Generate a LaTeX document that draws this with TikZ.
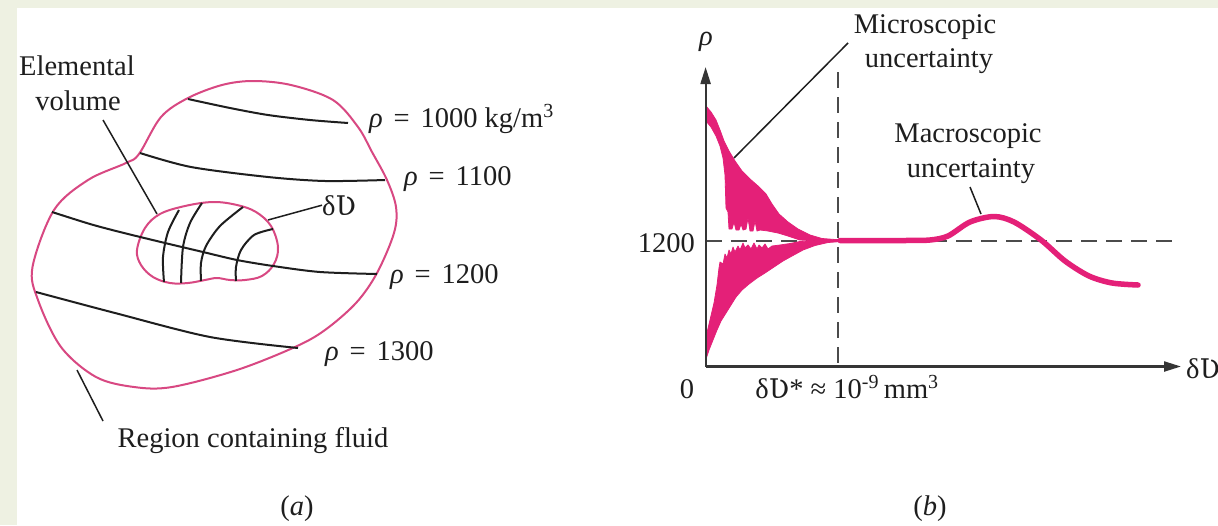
\documentclass[tikz,border=0pt]{standalone}
\usepackage{fontspec}
\setmainfont{Liberation Serif}
\newfontfamily\dvs[Scale=0.95]{DejaVu Serif}
\usetikzlibrary{arrows.meta}
\definecolor{bggreen}{RGB}{238,241,226}
\definecolor{regionpink}{RGB}{216,72,130}
\definecolor{fanpink}{RGB}{228,32,120}
\definecolor{inkdark}{RGB}{30,30,30}
\newcommand\fsz{\fontsize{28.5pt}{34pt}\selectfont}
\newcommand\VV{{\dvs Ʋ}}
\newcommand\rh{\textit{ρ}}
\newcommand\eqs{\hspace{0.38em}=\hspace{0.38em}}
\begin{document}
\begin{tikzpicture}[x=1pt,y=-1pt,
  lbl/.style={font=\fsz, inner sep=0pt, text=inkdark},
  iso/.style={draw=inkdark, line width=2pt},
  leader/.style={draw=inkdark, line width=1.5pt},
  regionline/.style={draw=regionpink, line width=2pt},
  axisline/.style={draw=inkdark!90, line width=2.2pt, -{Triangle[length=17pt,width=10pt]}},
  guide/.style={draw=inkdark!80, line width=2pt, dash pattern=on 16pt off 9pt},
  fan/.style={fill=fanpink, draw=fanpink, line width=0.8pt, line join=round},
  curve/.style={draw=fanpink, line width=5.5pt, line cap=round, line join=round},
]
\useasboundingbox (0,0) rectangle (1218,525);
\clip (0,0) rectangle (1218,525);
\fill[bggreen] (0,0) rectangle (1218,525);
\fill[white] (17,7.5) rectangle (1218,525);

% ---------------- (a) ----------------
\draw[regionline] plot[smooth cycle, tension=0.55] coordinates {
 (32.5,267) (38,300) (61,347) (96,377) (134,387) (172,387) (237,370)
 (295,347) (325,330) (356,303) (377,273) (394,233) (396,207) (387,180)
 (372,152) (358,127) (333,100) (291,85) (253,81) (222,85) (188,98)
 (161,117) (139,154) (126,163) (88,180) (54,210)};

\draw[iso] plot[smooth] coordinates {(188,99) (230,108) (268,115) (310,120) (348,123)};
\draw[iso] plot[smooth] coordinates {(140,153) (191,167) (268,177) (325,181) (385,180)};
\draw[iso] plot[smooth] coordinates {(36,292) (115,313) (210,337) (298,348)};

% elemental volume
\draw[regionline, fill=white] plot[smooth cycle, tension=0.6] coordinates {
 (137,250) (141,265) (153,277) (170,283) (188,283) (205,280) (217,278)
 (230,280) (245,280) (262,276) (274,264) (278,247) (271,226) (256,212)
 (237,205) (213,202) (185,206) (160,214) (145,228)};
\draw[iso] plot[smooth] coordinates {(52,212) (90,224) (120,232) (165,243) (203,252) (237,260) (273,266) (320,272) (377,274)};
\draw[iso] plot[smooth] coordinates {(179,210) (168,232) (163,257) (164,282)};
\draw[iso] plot[smooth] coordinates {(202,203) (190,223) (183,247) (181,283)};
\draw[iso] plot[smooth] coordinates {(243,207) (220,226) (206,246) (201,263) (201,281)};
\draw[iso] plot[smooth] coordinates {(273,229) (254,235) (241,250) (236,267) (236,281)};

\node[lbl, anchor=base] (elem1) at (77,75) {Elemental};
\node[lbl, anchor=base] (elem2) at (78,110) {volume};
\coordinate (elemtop) at (103,120);
\coordinate (elembot) at (157,214);
\draw[leader] (elemtop) -- (elembot);

\node[lbl, anchor=base west] (dv) at (322,215) {δ\VV};
\coordinate (dvend) at (268,220);
\draw[leader] (dvend) -- (dv.west);

\node[lbl, anchor=base west] (r1000) at (369,127) {\rh\eqs1000 kg/m\textsuperscript{3}};
\node[lbl, anchor=base west] (r1100) at (404,185) {\rh\eqs1100};
\node[lbl, anchor=base west] (r1200) at (390,283) {\rh\eqs1200};
\node[lbl, anchor=base west] (r1300) at (325,360) {\rh\eqs1300};

\node[lbl, anchor=base] (region) at (253,447) {Region containing fluid};
\coordinate (regtop) at (77,370);
\coordinate (regbot) at (103,421);
\draw[leader] (regtop) -- (regbot);

\node[lbl, anchor=base] (capa) at (297,515) {(\textit{a})};

% ---------------- (b) ----------------
\coordinate (O) at (705.6,366.5);
\coordinate (xend) at (1181,366.5);
\coordinate (yend) at (705.6,67);
\coordinate (hd1) at (706,240.5);
\coordinate (hd2) at (1178,240.5);
\coordinate (vd1) at (837.5,72);
\coordinate (vd2) at (837.5,366.5);
\draw[guide] (hd1) -- (hd2);
\draw[guide] (vd1) -- (vd2);

% upper fan
\path[fan] (706,106) -- (711,112) -- (716,120) -- (720,130) -- (724,141) -- (729,151)
 -- (735,161) -- (742,171) -- (750,179) -- (758,186) -- (766,194) -- (772,204)
 -- (779,214) -- (788,222) -- (798,229) -- (810,235) -- (822,238.5) -- (835,239.5)
 -- (848,239.5) -- (848,241) -- (820,241) -- (800,240) -- (788,236) -- (778,233)
 -- (768,231) -- (760,230) -- (757,231) -- (755,221) -- (753,231) -- (750,231)
 -- (748,218) -- (746,229) -- (743,230) -- (741,224) -- (739,230) -- (736,230)
 -- (734,222) -- (732,229) -- (729,229) -- (728,212) -- (726,208) -- (725,175)
 -- (723,158) -- (720,146) -- (716,136) -- (711,127) -- (706,121) -- cycle;
% lower fan
\path[fan] (706,359) -- (709,350) -- (713,340) -- (717,330) -- (721,321) -- (726,313)
 -- (731,305) -- (736,297) -- (742,290) -- (749,284) -- (757,278) -- (765,273)
 -- (774,267) -- (783,261) -- (792,256) -- (803,250) -- (815,245.5) -- (828,242.5)
 -- (848,241) -- (820,240.5) -- (800,241.5) -- (790,243.5) -- (780,245) -- (772,246)
 -- (768,249) -- (765,244) -- (762,248) -- (759,245) -- (757,249) -- (754,243)
 -- (751,249) -- (748,245) -- (745,248) -- (743,243) -- (740,250) -- (738,246)
 -- (735,252) -- (733,247) -- (731,254) -- (729,250) -- (727,258) -- (725,254)
 -- (723,264) -- (720,262) -- (719,268) -- (717,285) -- (714,303) -- (710,320)
 -- (706,337) -- cycle;

\draw[curve] plot[smooth, tension=0.5] coordinates {(840,240.5) (905,240.5) (930,240) (948,236)
 (970,222) (994,216.5) (1014,222) (1041,240) (1065,261) (1089,276) (1112,283) (1138,285)};

\draw[axisline] (O) -- (xend);
\draw[axisline] (O) -- (yend);

\node[lbl, anchor=base] (rho) at (706,45) {\rh};
\node[lbl, anchor=base east] (t1200) at (695,252) {1200};
\node[lbl, anchor=base] (zero) at (687,398) {0};
\node[lbl, anchor=base] (dvstar) at (847,398) {δ\VV* ≈ 10\textsuperscript{-9}\,mm\textsuperscript{3}};
\node[lbl, anchor=base west] (xlab) at (1186,378) {δ\VV};

\node[lbl, anchor=base] (mic1) at (925,33) {Microscopic};
\node[lbl, anchor=base] (mic2) at (929,67) {uncertainty};
\coordinate (micA) at (848,43);
\coordinate (micB) at (734,158);
\draw[leader] (micA) -- (micB);

\node[lbl, anchor=base] (mac1) at (968,142) {Macroscopic};
\node[lbl, anchor=base] (mac2) at (971,177) {uncertainty};
\coordinate (macA) at (970,187);
\coordinate (macB) at (981,214);
\draw[leader] (macA) -- (macB);

\node[lbl, anchor=base] (capb) at (930,515) {(\textit{b})};
\end{tikzpicture}
\end{document}
